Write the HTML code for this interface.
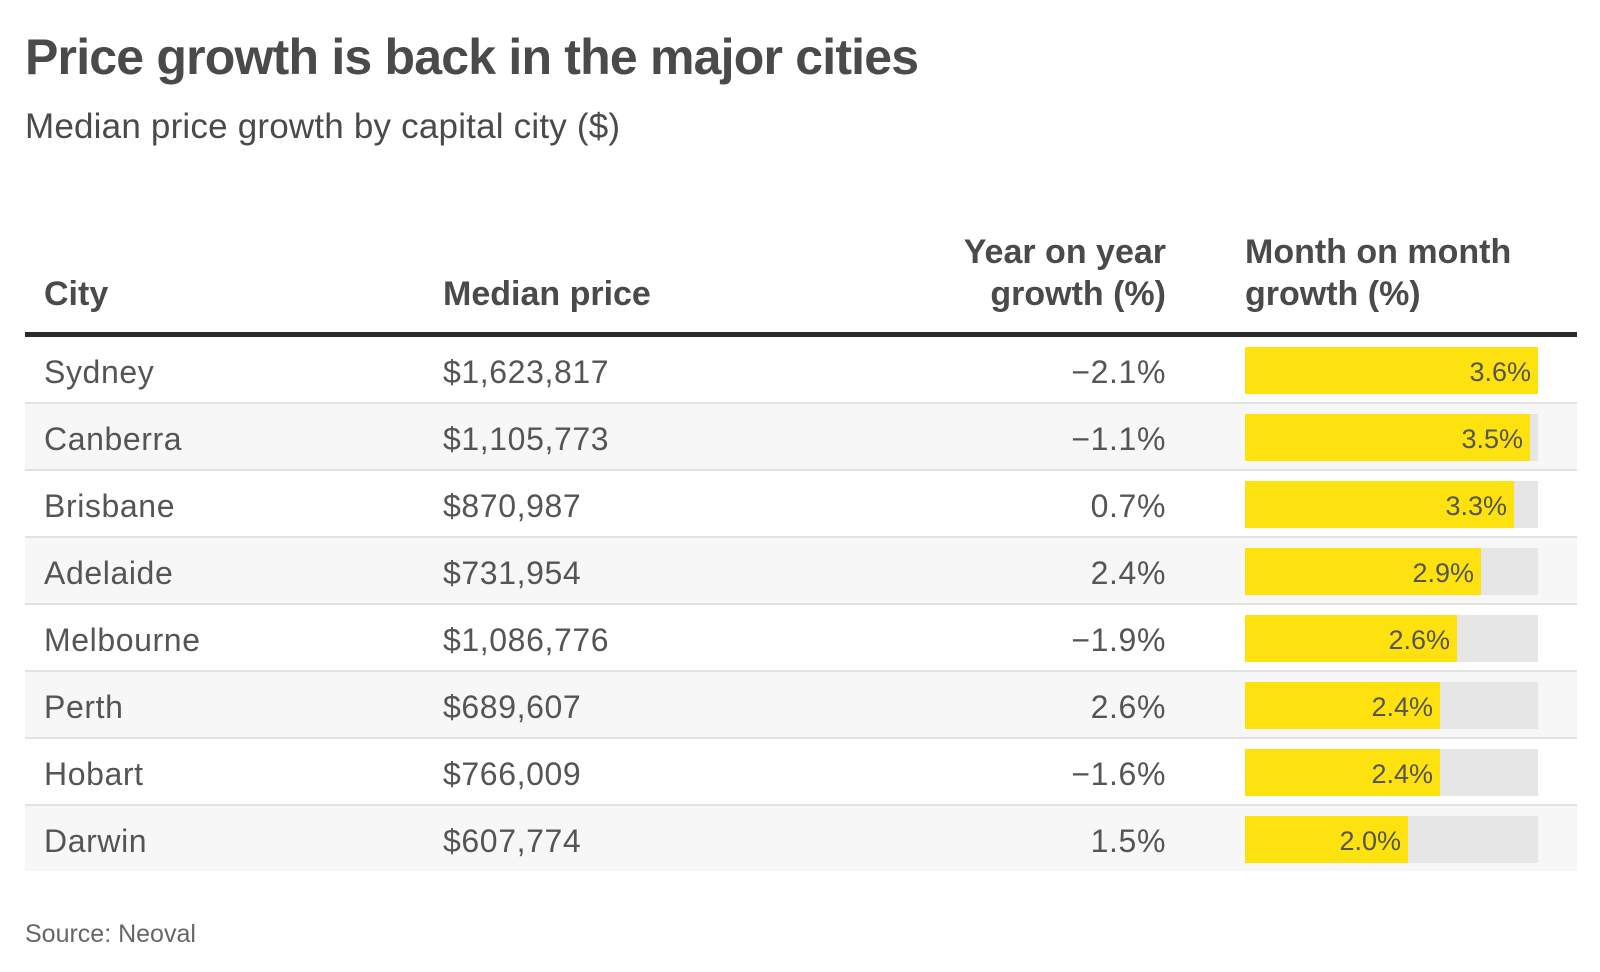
<!DOCTYPE html>
<html><head><meta charset="utf-8"><style>
body{margin:0;width:1600px;height:972px;background:#fff;font-family:"Liberation Sans",sans-serif;color:#4d4d4d;position:relative;overflow:hidden}
.t{position:absolute;left:25px;top:28px;font-size:50px;font-weight:bold;color:#4a4a4a;letter-spacing:-0.8px}
.s{position:absolute;left:25px;top:107px;font-size:35px;color:#4a4a4a;letter-spacing:0.2px}
.h{position:absolute;font-size:34px;font-weight:bold;color:#4a4a4a;line-height:42px}
.line{position:absolute;left:25px;width:1552px;top:332px;height:5px;background:#2b2b2b}
.row{position:absolute;left:25px;width:1552px;height:65px;border-bottom:2px solid #e2e2e2}
.row div{position:absolute;top:2px;line-height:67px;font-size:32px;color:#555;letter-spacing:0.6px}
.bg{position:absolute;left:1245px;width:293px;height:47px;background:#e6e6e6}
.bar{position:absolute;left:1245px;height:47px;background:#fde20f;font-size:27px;color:#555;text-align:right;line-height:50px;box-sizing:border-box;padding-right:7px}
.src{position:absolute;left:25px;top:920px;font-size:25px;color:#666}
</style></head><body>
<div class="t">Price growth is back in the major cities</div>
<div class="s">Median price growth by capital city ($)</div>
<div class="h" style="left:44px;top:273px">City</div>
<div class="h" style="left:443px;top:273px">Median price</div>
<div class="h" style="right:434px;top:231px;text-align:right">Year on year<br>growth (%)</div>
<div class="h" style="left:1245px;top:231px">Month on month<br>growth (%)</div>
<div class="line"></div>
<div class="row" style="top:337px;background:#fff"><div style="left:19px">Sydney</div><div style="left:418px">$1,623,817</div><div style="right:411px">−2.1%</div></div>
<div class="row" style="top:404px;background:#f7f7f7"><div style="left:19px">Canberra</div><div style="left:418px">$1,105,773</div><div style="right:411px">−1.1%</div></div>
<div class="row" style="top:471px;background:#fff"><div style="left:19px">Brisbane</div><div style="left:418px">$870,987</div><div style="right:411px">0.7%</div></div>
<div class="row" style="top:538px;background:#f7f7f7"><div style="left:19px">Adelaide</div><div style="left:418px">$731,954</div><div style="right:411px">2.4%</div></div>
<div class="row" style="top:605px;background:#fff"><div style="left:19px">Melbourne</div><div style="left:418px">$1,086,776</div><div style="right:411px">−1.9%</div></div>
<div class="row" style="top:672px;background:#f7f7f7"><div style="left:19px">Perth</div><div style="left:418px">$689,607</div><div style="right:411px">2.6%</div></div>
<div class="row" style="top:739px;background:#fff"><div style="left:19px">Hobart</div><div style="left:418px">$766,009</div><div style="right:411px">−1.6%</div></div>
<div class="row" style="top:806px;background:#f7f7f7;border-bottom:none"><div style="left:19px">Darwin</div><div style="left:418px">$607,774</div><div style="right:411px">1.5%</div></div>

<div class="bg" style="top:347px"></div><div class="bar" style="top:347px;width:293px">3.6%</div>
<div class="bg" style="top:414px"></div><div class="bar" style="top:414px;width:285px">3.5%</div>
<div class="bg" style="top:481px"></div><div class="bar" style="top:481px;width:269px">3.3%</div>
<div class="bg" style="top:548px"></div><div class="bar" style="top:548px;width:236px">2.9%</div>
<div class="bg" style="top:615px"></div><div class="bar" style="top:615px;width:212px">2.6%</div>
<div class="bg" style="top:682px"></div><div class="bar" style="top:682px;width:195px">2.4%</div>
<div class="bg" style="top:749px"></div><div class="bar" style="top:749px;width:195px">2.4%</div>
<div class="bg" style="top:816px"></div><div class="bar" style="top:816px;width:163px">2.0%</div>
<div class="src">Source: Neoval</div>
</body></html>
